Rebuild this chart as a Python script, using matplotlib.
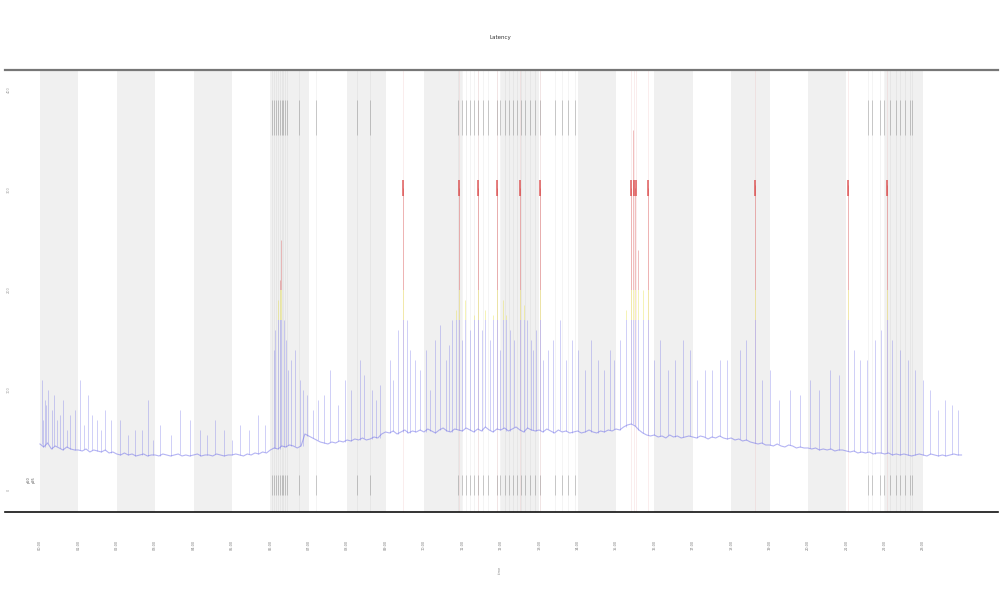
#!/usr/bin/env python3
import numpy as np
import matplotlib
matplotlib.use("Agg")
import matplotlib.pyplot as plt
from matplotlib.patches import Rectangle

# baseline of the series, one value every 0.1 day from 0 to 24
base_vals = [
    46, 43, 47, 41, 44, 42, 40, 43, 41, 40,
    40, 39, 41, 38, 40, 39, 38, 40, 37, 38,
    36, 35, 37, 35, 36, 34, 35, 36, 34, 35,
    35, 34, 36, 35, 34, 35, 36, 34, 35, 34,
    35, 36, 34, 35, 35, 34, 36, 35, 34, 35,
    35, 36, 35, 34, 36, 35, 37, 36, 38, 37,
    40, 42, 41, 44, 43, 45, 44, 42, 44, 56,
    54, 52, 50, 48, 47, 46, 48, 47, 49, 48,
    50, 49, 51, 50, 52, 50, 51, 53, 52, 56,
    58, 57, 59, 56, 58, 60, 57, 59, 58, 60,
    58, 61, 59, 57, 60, 62, 59, 58, 61, 60,
    59, 62, 60, 58, 61, 59, 63, 60, 58, 61,
    60, 62, 59, 61, 63, 60, 58, 62, 60, 59,
    60, 58, 61, 59, 57, 60, 58, 59, 57, 58,
    59, 57, 58, 60, 58, 57, 59, 58, 60, 59,
    61, 60, 63, 65, 66, 64, 60, 57, 55, 54,
    55, 53, 54, 52, 55, 53, 54, 52, 53, 54,
    53, 52, 54, 53, 51, 53, 52, 54, 52, 51,
    52, 50, 51, 49, 50, 48, 47, 46, 47, 45,
    45, 44, 46, 44, 43, 45, 44, 42, 43, 42,
    42, 41, 42, 40, 41, 40, 41, 39, 40, 40,
    39, 38, 39, 37, 38, 37, 38, 36, 37, 37,
    36, 37, 35, 36, 35, 36, 35, 34, 35, 36,
    35, 34, 36, 35, 34, 35, 34, 35, 36, 35,
    35,
]
base_x = np.round(np.arange(len(base_vals)) * 0.1, 2)

# short spikes above the baseline (x, peak)
spike_x = [
    0.05, 0.09, 0.13, 0.17, 0.21, 0.31, 0.36, 0.44, 0.52, 0.60, 0.70, 0.78,
    0.92, 1.04, 1.15, 1.25, 1.36, 1.48, 1.58, 1.69, 1.85,
    2.08, 2.30, 2.47, 2.65, 2.81, 2.95, 3.13, 3.40, 3.65, 3.90, 4.17, 4.35,
    4.56, 4.80, 5.00, 5.21, 5.45, 5.68, 5.85,
    6.09, 6.12, 6.20, 6.25, 6.28, 6.35, 6.40, 6.46, 6.55, 6.64, 6.77, 6.85,
    6.95, 7.10, 7.24, 7.40, 7.55, 7.75, 7.94, 8.10, 8.33, 8.45, 8.65, 8.75,
    8.85,
    9.11, 9.20, 9.32, 9.45, 9.55, 9.64, 9.78, 9.90, 10.05, 10.15, 10.29,
    10.42, 10.57, 10.65, 10.73, 10.84, 10.91, 11.00, 11.07, 11.20, 11.30,
    11.41, 11.50, 11.59, 11.72, 11.80, 11.90, 11.98, 12.06, 12.15, 12.24,
    12.35, 12.50, 12.60, 12.68, 12.78, 12.84, 12.93, 13.02,
    13.10, 13.23, 13.35, 13.54, 13.70, 13.85, 14.00, 14.19, 14.35, 14.53,
    14.70, 14.84, 14.95, 15.10, 15.25,
    15.39, 15.44, 15.49, 15.57, 15.70,
    15.83, 16.00, 16.15, 16.35, 16.54, 16.75, 16.93, 17.10, 17.32, 17.50,
    17.71, 17.90, 18.23, 18.40, 18.62,
    18.80, 19.01, 19.25, 19.53, 19.80, 20.05, 20.30, 20.57, 20.80, 21.04,
    21.20, 21.35, 21.55, 21.74, 21.90, 22.06, 22.20, 22.40, 22.60, 22.79,
    23.00, 23.18, 23.40, 23.57, 23.75, 23.91,
]
spike_y = [
    110, 70, 90, 85, 100, 80, 95, 70, 75, 90, 60, 75,
    80, 110, 65, 95, 75, 70, 60, 80, 70,
    70, 55, 60, 60, 90, 50, 65, 55, 80, 70, 60, 55,
    70, 60, 50, 65, 60, 75, 65,
    140, 160, 190, 210, 250, 170, 150, 120, 130, 140, 110, 100,
    95, 80, 90, 95, 120, 85, 110, 100, 130, 115, 100, 90,
    105,
    130, 110, 160, 302, 170, 140, 130, 120, 140, 100, 150,
    165, 130, 145, 170, 180, 302, 150, 190, 160, 175,
    302, 160, 180, 150, 175, 302, 140, 190, 175, 160,
    150, 302, 185, 170, 150, 140, 160, 302,
    130, 140, 150, 170, 130, 150, 140, 120, 150, 130,
    120, 140, 130, 150, 180,
    302, 360, 302, 240, 200,
    302, 130, 150, 120, 130, 150, 140, 110, 120, 120,
    130, 130, 140, 150, 305,
    110, 120, 90, 100, 95, 110, 100, 120, 115, 305,
    140, 130, 130, 150, 160, 305, 150, 140, 130, 120,
    110, 100, 80, 90, 85, 80,
]

# flagged events (red marks)
alert_x = [9.45, 10.91, 11.41, 11.90, 12.50, 13.02, 15.39, 15.47, 15.52,
           15.83, 18.62, 21.04, 22.06]
alert_level = 302

# deployment / log events (grey rug at top and bottom)
event_x = [
    6.04, 6.09, 6.15, 6.20, 6.25, 6.30, 6.33, 6.38, 6.43, 6.74, 7.19, 8.26, 8.59,
    10.89, 10.99, 11.09, 11.20, 11.30, 11.41, 11.54, 11.67, 11.90, 11.98, 12.11,
    12.21, 12.32, 12.42, 12.53, 12.63, 12.76, 12.89, 13.02, 13.41, 13.59, 13.75,
    13.93,
    21.56, 21.67, 21.88, 21.98, 22.14, 22.29, 22.40, 22.53, 22.66, 22.71,
]

day_labels = [f"{h:02d}:00" for h in range(24)]
y_ticks = [0, 100, 200, 300, 400]

# thresholds for colouring
warn_lo, warn_hi = 170, 200

# spike foot = baseline sample nearest to the spike
spike_foot = [base_vals[int(round(s * 10))] for s in spike_x]

fig = plt.figure(figsize=(10, 6), dpi=100)
ax = fig.add_axes([0.005, 0.1467, 0.993, 0.7366])
xmin, xmax = -0.91, 24.95
ymin, ymax = -22, 420

for d in range(0, 24, 2):
    ax.axvspan(d, d + 1, color="#f0f0f0", lw=0, zorder=0)

for ex in event_x:
    ax.axvline(ex, color="#999999", lw=0.5, alpha=0.15, zorder=1)
for a in alert_x:
    ax.axvline(a, color="#e8a0a0", lw=0.6, alpha=0.22, zorder=1)

ax.vlines(event_x, 0.853, 0.932, transform=ax.get_xaxis_transform(),
          color="#666666", lw=0.45, alpha=0.5, zorder=3)
ax.vlines(event_x, 0.038, 0.084, transform=ax.get_xaxis_transform(),
          color="#666666", lw=0.45, alpha=0.5, zorder=3)

bands = [
    (ymin, warn_lo, "#6a6ae8", 0.5),
    (warn_lo, warn_hi, "#e6e040", 0.6),
    (warn_hi, ymax, "#d84848", 0.55),
]
for lo, hi, col, al in bands:
    clip = Rectangle((xmin, lo), xmax - xmin, hi - lo, transform=ax.transData)
    line, = ax.plot(base_x, base_vals, color=col, lw=0.8, alpha=al, zorder=4)
    line.set_clip_path(clip)
    vl = ax.vlines(spike_x, spike_foot, spike_y, color=col, lw=0.45,
                   alpha=al, zorder=4)
    vl.set_clip_path(clip)

ax.plot(alert_x, [alert_level] * len(alert_x), ls="none", marker="|",
        ms=12, mew=1.3, color="#d83a3a", alpha=0.7, zorder=5)

ax.text(-0.23, 7, "p50\np95", rotation=90, fontsize=2.5, color="#555555",
        ha="center", va="bottom")

ax.set_xlim(xmin, xmax)
ax.set_ylim(ymin, ymax)
ax.set_xticks(range(24))
ax.set_xticklabels(day_labels, rotation=90, fontsize=2.5, color="#777777")
ax.set_yticks(y_ticks)
ax.set_yticklabels([str(v) for v in y_ticks], rotation=90, fontsize=2.5,
                   color="#999999", va="center")
ax.tick_params(axis="x", length=0, pad=20)
ax.tick_params(axis="y", length=0, pad=-4)

for s in ["left", "right"]:
    ax.spines[s].set_visible(False)
ax.spines["top"].set_color("#777777")
ax.spines["top"].set_linewidth(1.6)
ax.spines["bottom"].set_color("#111111")
ax.spines["bottom"].set_linewidth(1.2)

fig.text(0.5, 1 - 37 / 600, "Latency", fontsize=4, ha="center", va="center",
         color="#333333")
fig.text(0.5, 1 - 570 / 600, "time", rotation=90, fontsize=2.5,
         ha="center", va="center", color="#888888")

fig.savefig("out.png", dpi=100)
